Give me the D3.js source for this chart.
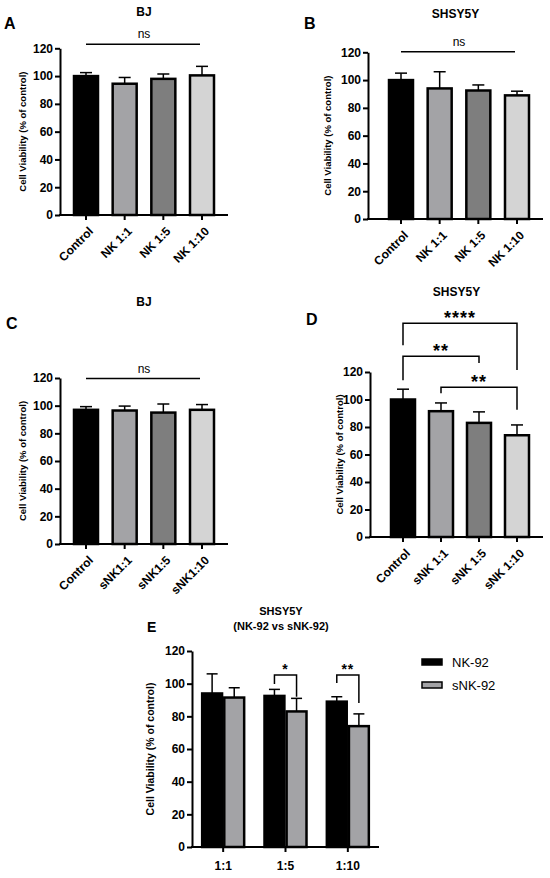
<!DOCTYPE html>
<html>
<head>
<meta charset="utf-8">
<script src="https://cdn.jsdelivr.net/npm/d3@7"></script>
<style>
  body { margin: 0; background: #fff; }
  svg { display: block; font-family: "Liberation Sans", Arial, sans-serif; }
</style>
</head>
<body>
<svg id="chart" width="550" height="878"></svg>
<script>
// 데이터
const yTicks = [0, 20, 40, 60, 80, 100, 120];
const yLabel = "Cell Viability (% of control)";
const barColors = ["#000000", "#a3a3a6", "#7e7e7e", "#d4d4d4"];

const catsA = ["Control", "NK 1:1", "NK 1:5", "NK 1:10"];
const meanA = [100, 94.5, 98, 100.5];
const errA = [2.5, 4.5, 3.5, 6.5];

const catsB = ["Control", "NK 1:1", "NK 1:5", "NK 1:10"];
const meanB = [100, 94, 92.5, 89];
const errB = [5, 12, 4, 3];

const catsC = ["Control", "sNK1:1", "sNK1:5", "sNK1:10"];
const meanC = [97, 96.5, 95, 97];
const errC = [2.3, 3.2, 6.2, 3.8];

const catsD = ["Control", "sNK 1:1", "sNK 1:5", "sNK 1:10"];
const meanD = [100, 91.5, 83, 74];
const errD = [7.5, 6, 8, 7.5];

// 패널 D 유의성 괄호 (값 단위)
const bracketsD = [
  { a: 0, b: 3, level: 155.5, dropA: 139.5, dropB: 121.5, label: "****" },
  { a: 0, b: 2, level: 131.5, dropA: 114, dropB: 126.5, label: "**" },
  { a: 1, b: 3, level: 109, dropA: 104.5, dropB: 92.5, label: "**" }
];

const groupsE = ["1:1", "1:5", "1:10"];
const seriesE = ["NK-92", "sNK-92"];
const nkE = [94, 92.5, 89];
const nkErrE = [12, 4, 3];
const snkE = [91.5, 83, 74];
const snkErrE = [6, 8, 7.5];
const bracketsE = [
  { g: 1, level: 105.3, dropA: 99.8, dropB: 92, label: "*" },
  { g: 2, level: 105.3, dropA: 100.4, dropB: 88.2, label: "**" }
];

const svg = d3.select('#chart');

function yAxisAndLabel(g, y, p) {
  const ax = g.append('g')
    .attr('transform', `translate(${p.axisX},0)`)
    .call(d3.axisLeft(y).tickValues(yTicks).tickSize(5).tickSizeOuter(0).tickPadding(2));
  ax.select('.domain').attr('stroke-width', 2).attr('stroke', '#000');
  ax.selectAll('.tick line').attr('stroke-width', 2);
  ax.selectAll('.tick text').attr('font-size', 12).attr('font-weight', 'bold').attr('fill', '#000');

  g.append('text')
    .attr('transform', `translate(${p.axisX - p.labelOff},${(y(0) + y(120)) / 2}) rotate(-90)`)
    .attr('text-anchor', 'middle')
    .attr('dy', '0.35em')
    .attr('font-size', p.labelSize)
    .attr('font-weight', 'bold')
    .text(yLabel);

  // x축 선
  g.append('line')
    .attr('x1', p.axisX - 1).attr('x2', p.xEnd)
    .attr('y1', y(0)).attr('y2', y(0))
    .attr('stroke', '#000').attr('stroke-width', 2);
}

function errorBar(g, x, yTop, yErr, cap) {
  g.append('line')
    .attr('x1', x).attr('x2', x).attr('y1', yTop).attr('y2', yErr)
    .attr('stroke', '#000').attr('stroke-width', 1.5);
  g.append('line')
    .attr('x1', x - cap / 2).attr('x2', x + cap / 2).attr('y1', yErr).attr('y2', yErr)
    .attr('stroke', '#000').attr('stroke-width', 1.5);
}

function drawPanel(p) {
  const g = svg.append('g');
  const y = d3.scaleLinear().domain([0, 120]).range([p.y0, p.y120]);
  const x = d3.scalePoint().domain(p.cats).range([p.axisX + p.padL, p.xEnd - p.padR]);
  const bw = 24;

  // 막대
  p.cats.forEach((c, i) => {
    errorBar(g, x(c), y(p.mean[i]), y(p.mean[i] + p.err[i]), 12);
    g.append('rect')
      .attr('x', x(c) - bw / 2).attr('y', y(p.mean[i]))
      .attr('width', bw).attr('height', y(0) - y(p.mean[i]))
      .attr('fill', barColors[i])
      .attr('stroke', '#000').attr('stroke-width', 2.5);
  });

  yAxisAndLabel(g, y, p);

  // x 눈금과 회전된 라벨
  p.cats.forEach(c => {
    g.append('line')
      .attr('x1', x(c)).attr('x2', x(c)).attr('y1', y(0)).attr('y2', y(0) + 5)
      .attr('stroke', '#000').attr('stroke-width', 2);
    g.append('text')
      .attr('transform', `translate(${x(c) + 5},${y(0) + 14}) rotate(-45)`)
      .attr('text-anchor', 'end')
      .attr('dy', '0.35em')
      .attr('font-size', 12)
      .attr('font-weight', 'bold')
      .text(c);
  });

  // 제목과 패널 문자
  g.append('text')
    .attr('x', (p.axisX + p.xEnd) / 2).attr('y', p.titleY)
    .attr('text-anchor', 'middle')
    .attr('font-size', 12).attr('font-weight', 'bold')
    .text(p.title);
  g.append('text')
    .attr('x', p.letterX).attr('y', p.letterY)
    .attr('font-size', 16).attr('font-weight', 'bold')
    .text(p.letter);

  // ns 선
  if (p.ns !== undefined) {
    const c0 = p.cats[0], c1 = p.cats[p.cats.length - 1];
    g.append('line')
      .attr('x1', x(c0)).attr('x2', x(c1) - 2)
      .attr('y1', y(p.ns)).attr('y2', y(p.ns))
      .attr('stroke', '#000').attr('stroke-width', 1.5);
    g.append('text')
      .attr('x', (x(c0) + x(c1)) / 2).attr('y', y(p.ns) - 6)
      .attr('text-anchor', 'middle')
      .attr('font-size', 12)
      .text('ns');
  }

  // 유의성 괄호
  (p.brackets || []).forEach(b => {
    const xa = x(p.cats[b.a]), xb = x(p.cats[b.b]);
    g.append('path')
      .attr('d', `M${xa},${y(b.dropA)}V${y(b.level)}H${xb}V${y(b.dropB)}`)
      .attr('fill', 'none').attr('stroke', '#000').attr('stroke-width', 1.5);
    g.append('text')
      .attr('x', (xa + xb) / 2).attr('y', y(b.level) + 1)
      .attr('text-anchor', 'middle')
      .attr('font-size', 18).attr('font-weight', 'bold')
      .attr('letter-spacing', 1)
      .text(b.label);
  });
}

drawPanel({ cats: catsA, mean: meanA, err: errA, axisX: 60, xEnd: 228, padL: 26, padR: 26,
  y0: 215, y120: 48.3, labelOff: 37, labelSize: 9.5, title: 'BJ', titleY: 16,
  letter: 'A', letterX: 4, letterY: 29, ns: 123 });
drawPanel({ cats: catsB, mean: meanB, err: errB, axisX: 368, xEnd: 543, padL: 33, padR: 26,
  y0: 219, y120: 52.3, labelOff: 40, labelSize: 9.5, title: 'SHSY5Y', titleY: 18,
  letter: 'B', letterX: 304, letterY: 29, ns: 120.4 });
drawPanel({ cats: catsC, mean: meanC, err: errC, axisX: 60, xEnd: 228, padL: 26, padR: 26,
  y0: 544, y120: 378, labelOff: 37, labelSize: 9.5, title: 'BJ', titleY: 306,
  letter: 'C', letterX: 6, letterY: 329, ns: 119.6 });
drawPanel({ cats: catsD, mean: meanD, err: errD, axisX: 370, xEnd: 543, padL: 33, padR: 26,
  y0: 537, y120: 372, labelOff: 30, labelSize: 9.5, title: 'SHSY5Y', titleY: 296,
  letter: 'D', letterX: 306, letterY: 325, brackets: bracketsD });

// 패널 E: 그룹 막대
(function drawE() {
  const p = { axisX: 192, xEnd: 379, y0: 847, y120: 651, labelOff: 42, labelSize: 10.5 };
  const g = svg.append('g');
  const y = d3.scaleLinear().domain([0, 120]).range([p.y0, p.y120]);
  const x = d3.scaleBand().domain(groupsE).range([p.axisX, p.xEnd]).padding(0);
  const xs = d3.scaleBand().domain(seriesE).range([-21, 21]).paddingInner(0.1);
  const vals = [nkE, snkE], errs = [nkErrE, snkErrE];
  const fills = ['#000000', '#a3a3a6'];

  groupsE.forEach((gr, i) => {
    const cx = x(gr) + x.bandwidth() / 2;
    seriesE.forEach((s, k) => {
      const bx = cx + xs(s);
      const v = vals[k][i];
      errorBar(g, bx + xs.bandwidth() / 2, y(v), y(v + errs[k][i]), 11);
      g.append('rect')
        .attr('x', bx).attr('y', y(v))
        .attr('width', xs.bandwidth()).attr('height', y(0) - y(v))
        .attr('fill', fills[k])
        .attr('stroke', '#000').attr('stroke-width', 2.5);
    });
    g.append('line')
      .attr('x1', cx).attr('x2', cx).attr('y1', y(0)).attr('y2', y(0) + 5)
      .attr('stroke', '#000').attr('stroke-width', 2);
    g.append('text')
      .attr('x', cx).attr('y', y(0) + 23)
      .attr('text-anchor', 'middle')
      .attr('font-size', 12).attr('font-weight', 'bold')
      .text(gr);
  });

  yAxisAndLabel(g, y, p);

  bracketsE.forEach(b => {
    const cx = x(groupsE[b.g]) + x.bandwidth() / 2;
    const xa = cx + xs(seriesE[0]) + xs.bandwidth() / 2;
    const xb = cx + xs(seriesE[1]) + xs.bandwidth() / 2;
    g.append('path')
      .attr('d', `M${xa},${y(b.dropA)}V${y(b.level)}H${xb}V${y(b.dropB)}`)
      .attr('fill', 'none').attr('stroke', '#000').attr('stroke-width', 1.5);
    g.append('text')
      .attr('x', (xa + xb) / 2).attr('y', y(b.level) - 1)
      .attr('text-anchor', 'middle')
      .attr('font-size', 14).attr('font-weight', 'bold')
      .attr('letter-spacing', 1)
      .text(b.label);
  });

  g.append('text')
    .attr('x', 281).attr('y', 615)
    .attr('text-anchor', 'middle')
    .attr('font-size', 11).attr('font-weight', 'bold')
    .text('SHSY5Y');
  g.append('text')
    .attr('x', 281).attr('y', 630)
    .attr('text-anchor', 'middle')
    .attr('font-size', 11).attr('font-weight', 'bold')
    .text('(NK-92 vs sNK-92)');
  g.append('text')
    .attr('x', 147).attr('y', 632)
    .attr('font-size', 14).attr('font-weight', 'bold')
    .text('E');

  // 범례
  const leg = g.append('g').attr('transform', 'translate(422,662)');
  seriesE.forEach((s, k) => {
    leg.append('rect')
      .attr('x', 0).attr('y', k * 23 - 3)
      .attr('width', 20).attr('height', 6)
      .attr('fill', fills[k])
      .attr('stroke', '#000').attr('stroke-width', 1.5);
    leg.append('text')
      .attr('x', 30).attr('y', k * 23)
      .attr('dy', '0.35em')
      .attr('font-size', 13)
      .text(s);
  });
})();
</script>
</body>
</html>
